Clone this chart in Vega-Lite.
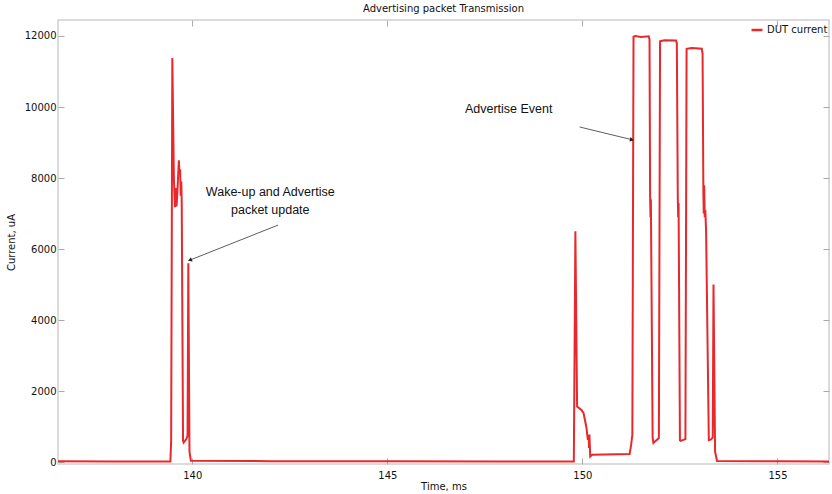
{
  "$schema": "https://vega.github.io/schema/vega-lite/v6.json",
  "width": 771,
  "height": 444,
  "autosize": {"type": "none"},
  "padding": {"left": 58, "top": 20, "right": 3, "bottom": 30},
  "title": {"text": "Advertising packet Transmission", "font": "DejaVu Sans", "fontSize": 10, "fontWeight": "normal", "color": "#111", "offset": 6, "anchor": "middle"},
  "config": {
    "view": {"stroke": "#cfcfcf", "strokeWidth": 1.5},
    "axis": {"grid": false, "domain": false, "labelFont": "DejaVu Sans", "labelFontSize": 10, "labelColor": "#111", "titleFont": "DejaVu Sans", "titleFontSize": 10, "titleFontWeight": "normal", "titleColor": "#111", "tickColor": "#aaaaaa", "tickSize": -6, "tickWidth": 1}
  },
  "datasets": {
    "curve": [
      {"t": 136.56, "v": 25}, {"t": 138.0, "v": 20}, {"t": 139.44, "v": 22},
      {"t": 139.46, "v": 600}, {"t": 139.49, "v": 11380}, {"t": 139.53, "v": 8000},
      {"t": 139.557, "v": 7180}, {"t": 139.58, "v": 7720}, {"t": 139.598, "v": 7200},
      {"t": 139.62, "v": 7600}, {"t": 139.657, "v": 8500}, {"t": 139.673, "v": 8140},
      {"t": 139.69, "v": 8250}, {"t": 139.706, "v": 7500}, {"t": 139.72, "v": 7900},
      {"t": 139.731, "v": 7300}, {"t": 139.765, "v": 600}, {"t": 139.78, "v": 550},
      {"t": 139.85, "v": 650}, {"t": 139.88, "v": 750}, {"t": 139.9, "v": 5600},
      {"t": 139.93, "v": 300}, {"t": 139.965, "v": 40}, {"t": 142.0, "v": 30},
      {"t": 145.0, "v": 25}, {"t": 148.0, "v": 22}, {"t": 149.78, "v": 20},
      {"t": 149.82, "v": 6500}, {"t": 149.864, "v": 1570}, {"t": 149.975, "v": 1470},
      {"t": 150.03, "v": 1380}, {"t": 150.1, "v": 1000}, {"t": 150.14, "v": 630},
      {"t": 150.16, "v": 760}, {"t": 150.17, "v": 400}, {"t": 150.18, "v": 780},
      {"t": 150.2, "v": 160}, {"t": 150.25, "v": 210}, {"t": 151.21, "v": 230},
      {"t": 151.25, "v": 500}, {"t": 151.28, "v": 770}, {"t": 151.31, "v": 11980},
      {"t": 151.35, "v": 12000}, {"t": 151.5, "v": 11970}, {"t": 151.7, "v": 11990},
      {"t": 151.72, "v": 11900}, {"t": 151.735, "v": 7500}, {"t": 151.745, "v": 6900},
      {"t": 151.755, "v": 7400}, {"t": 151.8, "v": 700}, {"t": 151.82, "v": 540},
      {"t": 151.96, "v": 680}, {"t": 151.99, "v": 11850}, {"t": 152.1, "v": 11880},
      {"t": 152.4, "v": 11870}, {"t": 152.42, "v": 11800}, {"t": 152.445, "v": 7400},
      {"t": 152.455, "v": 6900}, {"t": 152.465, "v": 7300}, {"t": 152.5, "v": 620},
      {"t": 152.52, "v": 600}, {"t": 152.64, "v": 650}, {"t": 152.67, "v": 11640},
      {"t": 152.8, "v": 11660}, {"t": 153.06, "v": 11640}, {"t": 153.08, "v": 11500},
      {"t": 153.1, "v": 7600}, {"t": 153.11, "v": 7000}, {"t": 153.12, "v": 7800},
      {"t": 153.135, "v": 6900}, {"t": 153.15, "v": 7100}, {"t": 153.17, "v": 6500},
      {"t": 153.24, "v": 620}, {"t": 153.3, "v": 640}, {"t": 153.34, "v": 700},
      {"t": 153.36, "v": 5000}, {"t": 153.4, "v": 300}, {"t": 153.45, "v": 35},
      {"t": 155.0, "v": 25}, {"t": 156.32, "v": 22}
    ],
    "notes": [
      {"t": 142.0, "v": 7600, "label": "Wake-up and Advertise\npacket update"},
      {"t": 148.11, "v": 9940, "label": "Advertise Event"}
    ],
    "arrows": [
      {"t": 142.2, "v": 6676, "t2": 139.94, "v2": 5690, "ang": 158.5},
      {"t": 149.93, "v": 9438, "t2": 151.27, "v2": 9080, "ang": 12.8}
    ]
  },
  "resolve": {"axis": {"x": "independent", "y": "independent"}},
  "layer": [
    {
      "data": {"name": "curve"},
      "mark": {"type": "line", "strokeWidth": 2, "interpolate": "linear"},
      "encoding": {
        "x": {"field": "t", "type": "quantitative", "scale": {"domain": [136.56, 156.32], "nice": false, "zero": false}, "axis": {"title": "Time, ms", "values": [140, 145, 150, 155], "format": "d", "labelPadding": 12, "titlePadding": 1}},
        "y": {"field": "v", "type": "quantitative", "scale": {"domain": [-50, 12450], "nice": false, "zero": false}, "axis": {"title": "Current, uA", "values": [0, 2000, 4000, 6000, 8000, 10000, 12000], "format": "d", "labelPadding": 8, "titlePadding": 8}},
        "color": {"datum": "DUT current", "type": "nominal", "scale": {"range": ["#e8282b"]}, "legend": {"title": null, "orient": "none", "legendX": 692, "legendY": 3, "symbolType": "stroke", "symbolStrokeWidth": 2.5, "symbolSize": 120, "labelFont": "DejaVu Sans", "labelFontSize": 10, "labelColor": "#111", "labelOffset": 3}}
      }
    },
    {
      "data": {"name": "arrows"},
      "mark": {"type": "rule", "color": "#333", "strokeWidth": 0.8},
      "encoding": {
        "x": {"field": "t", "type": "quantitative", "scale": {"domain": [136.56, 156.32], "nice": false, "zero": false}, "axis": {"orient": "top", "labels": false, "title": null, "values": [140, 145, 150, 155]}},
        "y": {"field": "v", "type": "quantitative", "scale": {"domain": [-50, 12450], "nice": false, "zero": false}, "axis": {"orient": "right", "labels": false, "title": null, "values": [0, 2000, 4000, 6000, 8000, 10000, 12000]}},
        "x2": {"field": "t2"},
        "y2": {"field": "v2"}
      }
    },
    {
      "data": {"name": "arrows"},
      "mark": {"type": "point", "shape": "triangle-right", "filled": true, "color": "#222", "size": 22, "opacity": 1},
      "encoding": {
        "x": {"field": "t2", "type": "quantitative", "scale": {"domain": [136.56, 156.32], "nice": false, "zero": false}, "axis": null},
        "y": {"field": "v2", "type": "quantitative", "scale": {"domain": [-50, 12450], "nice": false, "zero": false}, "axis": null},
        "angle": {"field": "ang", "type": "quantitative", "scale": null}
      }
    },
    {
      "data": {"name": "notes"},
      "mark": {"type": "text", "font": "Liberation Sans", "fontSize": 12.5, "color": "#111", "lineBreak": "\n", "lineHeight": 18, "align": "center", "baseline": "middle"},
      "encoding": {
        "x": {"field": "t", "type": "quantitative", "scale": {"domain": [136.56, 156.32], "nice": false, "zero": false}, "axis": null},
        "y": {"field": "v", "type": "quantitative", "scale": {"domain": [-50, 12450], "nice": false, "zero": false}, "axis": null},
        "text": {"field": "label"}
      }
    }
  ]
}
